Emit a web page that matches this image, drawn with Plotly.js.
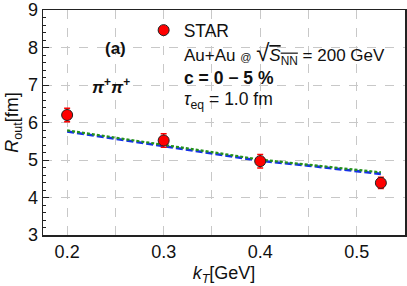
<!DOCTYPE html>
<html>
<head>
<meta charset="utf-8">
<script src="https://cdn.plot.ly/plotly-3.0.1.min.js"></script>
<style>html,body{margin:0;padding:0;background:#fff;}#chart{width:407px;height:286px;}</style>
</head>
<body>
<div id="chart"></div>
<script>
// STAR data
const starKT = [0.2, 0.3, 0.4, 0.525];
const starRout = [6.2, 5.52, 4.97, 4.39];
const starErr = [0.18, 0.18, 0.18, 0.15];
// model curves
const modelKT = [0.2, 0.25, 0.3, 0.35, 0.4, 0.45, 0.5, 0.525];
const modelBlue = [5.76, 5.57, 5.38, 5.18, 4.98, 4.85, 4.71, 4.63];
const modelGreen = [5.79, 5.60, 5.41, 5.21, 5.01, 4.88, 4.75, 4.67];

const fontFam = '"Liberation Sans", Arial, Helvetica, sans-serif';

const traces = [
  {x: modelKT, y: modelBlue, mode: 'lines', showlegend: false,
   line: {color: '#1530e8', width: 2.6, dash: '7px,3px'}},
  {x: modelKT, y: modelGreen, mode: 'lines', showlegend: false,
   line: {color: '#23911a', width: 2.2, dash: '3px,2px'}},
  {x: starKT, y: starRout, mode: 'markers', name: 'STAR',
   marker: {color: '#ff0000', size: 11, line: {color: '#222', width: 1}},
   error_y: {type: 'data', array: starErr, color: '#ff0000', thickness: 1.5, width: 3}}
];

const layout = {
  width: 407, height: 286,
  margin: {l: 43, r: 2, t: 10, b: 51},
  paper_bgcolor: '#fff', plot_bgcolor: '#fff',
  font: {family: fontFam, color: '#111'},
  xaxis: {
    range: [0.175, 0.55], dtick: 0.1, tick0: 0.2, tickformat: '.1f',
    showgrid: true, gridcolor: '#c8c8c8', griddash: 'dash', gridwidth: 1,
    minor: {dtick: 0.05, tick0: 0.2, showgrid: true, gridcolor: '#c8c8c8', griddash: 'dash', ticks: ''},
    ticks: '', showline: true, linecolor: '#222', linewidth: 1.5, mirror: true,
    zeroline: false,
    tickfont: {size: 18, family: fontFam},
    title: {text: '<i>k<sub>T</sub></i>[GeV]', font: {size: 18, family: fontFam}, standoff: 6}
  },
  yaxis: {
    range: [3, 9], dtick: 1,
    showgrid: true, gridcolor: '#c8c8c8', griddash: 'dash', gridwidth: 1,
    ticks: 'inside', ticklen: 6, tickcolor: '#222', tickwidth: 1,
    minor: {dtick: 0.2, ticks: 'inside', ticklen: 3, tickcolor: '#222', showgrid: false},
    showline: true, linecolor: '#222', linewidth: 1.5, mirror: true,
    zeroline: false,
    tickfont: {size: 18, family: fontFam},
    title: {text: '<i>R</i><sub>out</sub>[fm]', font: {size: 18, family: fontFam}, standoff: 4}
  },
  showlegend: true,
  legend: {x: 0.278, y: 0.99, xanchor: 'left', yanchor: 'top', bgcolor: 'rgba(0,0,0,0)',
           font: {size: 17.5, family: fontFam}, itemsizing: 'trace'},
  annotations: [
    {xref: 'paper', yref: 'paper', x: 0.199, y: 0.831, xanchor: 'center', yanchor: 'middle',
     text: '<b>(a)</b>', showarrow: false, font: {size: 17, family: fontFam}},
    {xref: 'paper', yref: 'paper', x: 0.188, y: 0.662, xanchor: 'center', yanchor: 'middle',
     text: '<b><i>π</i><sup>+</sup><i>π</i><sup>+</sup></b>', showarrow: false,
     font: {size: 17, family: fontFam}},
    {xref: 'paper', yref: 'paper', x: 0.385, y: 0.808, xanchor: 'left', yanchor: 'middle',
     text: 'Au+Au <span style="font-size:11px">@</span> <span style="font-size:24px">√</span><span style="text-decoration:overline"><i>S</i><sub>NN</sub></span> = 200 GeV',
     showarrow: false, font: {size: 17, family: fontFam}},
    {xref: 'paper', yref: 'paper', x: 0.385, y: 0.698, xanchor: 'left', yanchor: 'middle',
     text: '<b>c = 0 − 5 %</b>', showarrow: false, font: {size: 17.5, family: fontFam}},
    {xref: 'paper', yref: 'paper', x: 0.385, y: 0.6, xanchor: 'left', yanchor: 'middle',
     text: '<i>τ</i><sub>eq</sub> = 1.0 fm', showarrow: false, font: {size: 17.5, family: fontFam}}
  ]
};

Plotly.newPlot('chart', traces, layout, {displayModeBar: false, staticPlot: true});
</script>
</body>
</html>
